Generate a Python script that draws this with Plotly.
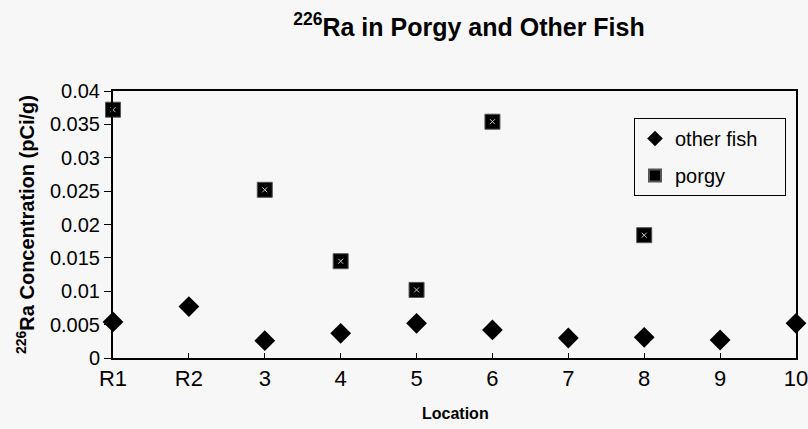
import plotly.graph_objects as go

locations = ["R1", "R2", "3", "4", "5", "6", "7", "8", "9", "10"]
other_fish = [0.0054, 0.0077, 0.0026, 0.0037, 0.0052, 0.0042, 0.0030, 0.0031, 0.0027, 0.0052]
porgy = [0.0372, None, 0.0252, 0.0145, 0.0102, 0.0354, None, 0.0184, None, None]
series_names = ["other fish\u00a0\u00a0\u00a0\u00a0", "porgy"]

FONT = "Liberation Sans, Arial, sans-serif"
BG = "#f7f7f7"
L, R, T, B = 113, 12, 91, 71
PW, PH = 808 - L - R, 429 - T - B

fig = go.Figure()
fig.add_trace(go.Scatter(
    x=locations, y=other_fish, mode="markers", name=series_names[0], legendgroup="a",
    marker=dict(symbol="diamond", size=16, color="black", line=dict(width=0)),
    cliponaxis=False,
))
fig.add_trace(go.Scatter(
    x=locations, y=porgy, mode="markers", name=series_names[1], legendgroup="b",
    marker=dict(symbol="square", size=15, color="black", line=dict(width=1, color="#555555")),
    cliponaxis=False,
))
fig.add_trace(go.Scatter(
    x=locations, y=porgy, mode="markers", showlegend=False, hoverinfo="skip",
    marker=dict(symbol="x-thin-open", size=5, color="#c8c8c8", line=dict(width=1, color="#c8c8c8")),
    cliponaxis=False,
))

fig.update_layout(
    width=808, height=429,
    paper_bgcolor=BG, plot_bgcolor=BG,
    margin=dict(l=L, r=R, t=T, b=B, autoexpand=False),
    font=dict(family=FONT, color="black"),
    title=dict(
        text="<b><sup>226</sup>Ra in Porgy and Other Fish</b>",
        x=469 / 808, xanchor="center", xref="container",
        y=1 - 27 / 429, yanchor="middle", yref="container",
        font=dict(size=25, family=FONT),
    ),
    showlegend=True,
    legend=dict(
        x=(634 - L) / PW, xref="paper", y=(429 - B - 118) / PH, yref="paper",
        xanchor="left", yanchor="top",
        bgcolor=BG, bordercolor="black", borderwidth=1,
        font=dict(size=20, family=FONT),
        itemsizing="constant", itemwidth=30, tracegroupgap=8,
    ),
    annotations=[
        dict(text="<b><sup>226</sup>Ra Concentration (pCi/g)</b>", textangle=-90,
             x=(25 - L) / PW, xref="paper", y=(429 - B - 225) / PH, yref="paper",
             showarrow=False, font=dict(size=20, family=FONT),
             xanchor="center", yanchor="middle"),
        dict(text="<b>Location</b>", x=(455 - L) / PW, xref="paper",
             y=(429 - B - 413) / PH, yref="paper",
             showarrow=False, font=dict(size=16, family=FONT),
             xanchor="center", yanchor="middle"),
    ],
)

fig.update_xaxes(
    type="category", range=[0, 9], automargin=False,
    showline=True, linecolor="black", linewidth=2, mirror=True,
    ticks="inside", ticklen=5, tickcolor="black",
    showgrid=False, zeroline=False,
    tickfont=dict(size=22, family=FONT),
)
fig.update_yaxes(
    range=[0, 0.04], dtick=0.005, tickformat="~g", automargin=False,
    showline=True, linecolor="black", linewidth=2, mirror=True,
    ticks="outside", ticklen=7, tickcolor="black",
    showgrid=False, zeroline=False,
    tickfont=dict(size=20, family=FONT),
)

fig.write_html("out.html", config={"displayModeBar": False},
               post_script="document.body.style.margin='0';")
